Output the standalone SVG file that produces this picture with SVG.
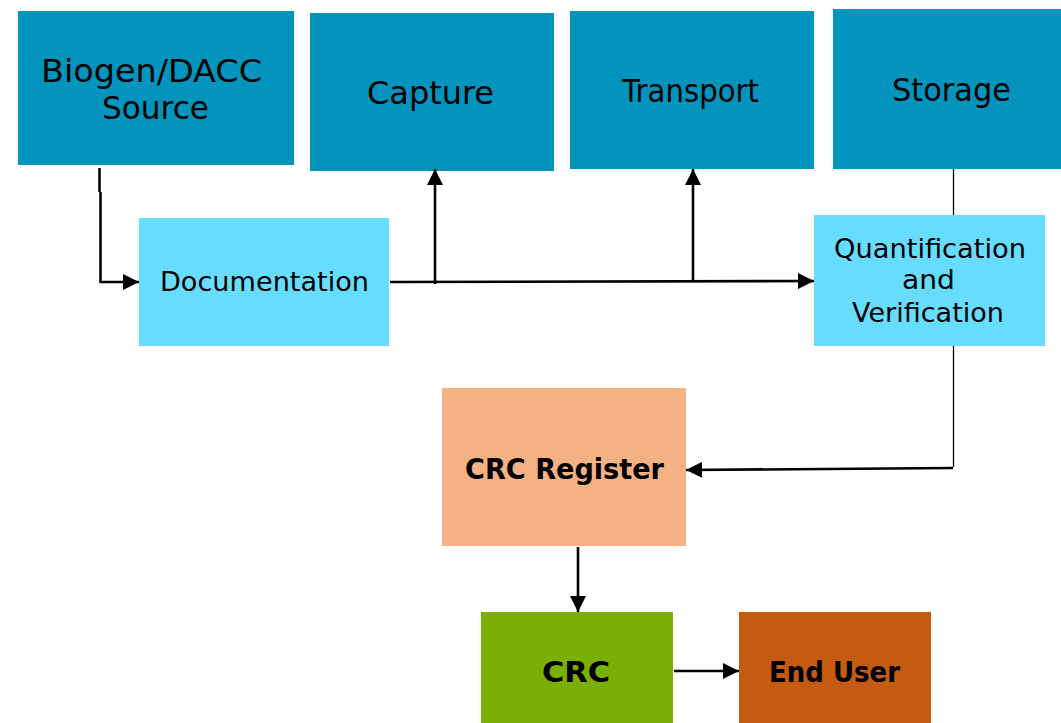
<svg xmlns="http://www.w3.org/2000/svg" width="1061" height="723" viewBox="0 0 1061 723">
  <style>
    .stage { fill: #0394BD; }
    .check { fill: #66DDFF; }
    .lbl { font-family: "DejaVu Sans", "Liberation Sans", sans-serif; fill: #000; }
    .big { font-size: 32px; }
    .mid { font-size: 27px; }
    .bold { font-family: "DejaVu Sans", "Liberation Sans", sans-serif; font-weight: bold; font-size: 29px; fill: #000; }
    .wire { fill: none; stroke: #000; stroke-width: 2.6; }
    .thin { fill: none; stroke: #000; stroke-width: 1.3; }
  </style>
  <defs>
    <marker id="head" markerUnits="userSpaceOnUse" markerWidth="16" markerHeight="16" refX="16" refY="8" orient="auto">
      <path d="M0,0 L16,8 L0,16 Z" fill="#000"/>
    </marker>
  </defs>
  <rect width="1061" height="723" fill="#fff"/>

  <g id="node-source">
    <rect class="stage" x="18" y="11" width="276" height="154"/>
    <text class="lbl big" x="41" y="82" textLength="221" lengthAdjust="spacingAndGlyphs">Biogen/DACC</text>
    <text class="lbl big" x="102" y="119" textLength="107" lengthAdjust="spacingAndGlyphs">Source</text>
  </g>
  <g id="node-capture">
    <rect class="stage" x="310" y="13" width="244" height="158"/>
    <text class="lbl big" x="367" y="104" textLength="127" lengthAdjust="spacingAndGlyphs">Capture</text>
  </g>
  <g id="node-transport">
    <rect class="stage" x="570" y="11" width="244" height="158"/>
    <text class="lbl big" x="622" y="102" textLength="137" lengthAdjust="spacingAndGlyphs">Transport</text>
  </g>
  <g id="node-storage">
    <rect class="stage" x="833" y="9" width="228" height="160"/>
    <text class="lbl big" x="892" y="101" textLength="119" lengthAdjust="spacingAndGlyphs">Storage</text>
  </g>
  <g id="node-documentation">
    <rect class="check" x="139" y="218" width="250" height="128"/>
    <text class="lbl mid" x="160" y="291" textLength="209" lengthAdjust="spacingAndGlyphs">Documentation</text>
  </g>
  <g id="node-quantification">
    <rect class="check" x="814" y="215" width="231" height="131"/>
    <text class="lbl mid" x="834" y="258" textLength="192" lengthAdjust="spacingAndGlyphs">Quantification</text>
    <text class="lbl mid" x="902" y="289" textLength="53" lengthAdjust="spacingAndGlyphs">and</text>
    <text class="lbl mid" x="852" y="322" textLength="152" lengthAdjust="spacingAndGlyphs">Verification</text>
  </g>
  <g id="node-register">
    <rect x="442" y="388" width="244" height="158" fill="#F4B183"/>
    <text class="bold" x="465" y="479" textLength="199" lengthAdjust="spacingAndGlyphs">CRC Register</text>
  </g>
  <g id="node-crc">
    <rect x="481" y="612" width="192" height="111" fill="#7AAF03"/>
    <text class="bold" x="542" y="682" textLength="68" lengthAdjust="spacingAndGlyphs">CRC</text>
  </g>
  <g id="node-enduser">
    <rect x="739" y="612" width="192" height="111" fill="#C55A11"/>
    <text class="bold" x="769" y="682" textLength="131" lengthAdjust="spacingAndGlyphs">End User</text>
  </g>

  <g id="connectors">
    <path class="wire" d="M99.5,168 V192 M100.5,192 V282 H139" marker-end="url(#head)"/>
    <path class="wire" d="M390,282 L814,281" marker-end="url(#head)"/>
    <path class="wire" d="M435,284 V169" marker-end="url(#head)"/>
    <path class="wire" d="M693,281 V169" marker-end="url(#head)"/>
    <path class="thin" d="M953.5,169 V215"/>
    <path class="thin" d="M953.5,346 V467"/>
    <path class="wire" d="M953,468 L686,470" marker-end="url(#head)"/>
    <path class="wire" d="M578,547 V612" marker-end="url(#head)"/>
    <path class="wire" d="M674,671 H739" marker-end="url(#head)"/>
  </g>
</svg>
